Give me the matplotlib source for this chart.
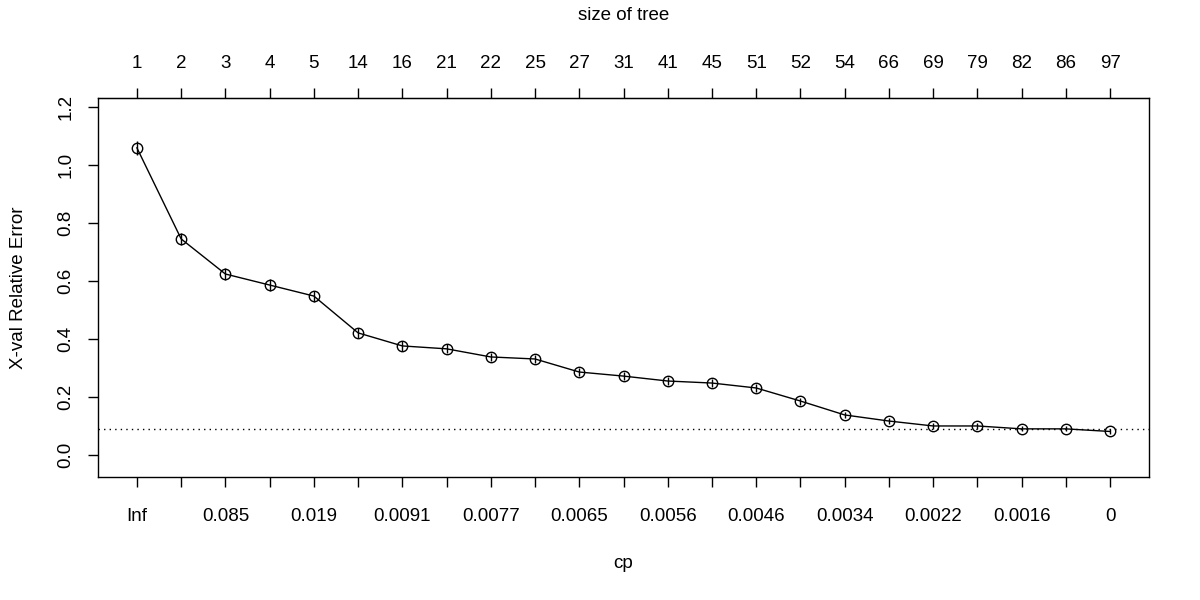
import numpy as np
import matplotlib.pyplot as plt

plt.rcParams['font.family'] = ['Liberation Sans', 'DejaVu Sans']

tree_size = [1, 2, 3, 4, 5, 14, 16, 21, 22, 25, 27, 31, 41, 45, 51, 52, 54, 66, 69, 79, 82, 86, 97]
xerror = [1.059, 0.745, 0.624, 0.586, 0.548, 0.421, 0.376, 0.366, 0.338, 0.331, 0.286, 0.272,
          0.255, 0.248, 0.231, 0.186, 0.138, 0.117, 0.100, 0.100, 0.090, 0.090, 0.081]
xstd = [0.024, 0.022, 0.020, 0.020, 0.019, 0.017, 0.016, 0.016, 0.015, 0.015, 0.014, 0.014,
        0.013, 0.013, 0.013, 0.012, 0.011, 0.010, 0.009, 0.009, 0.009, 0.009, 0.008]
cp_labels = ['Inf', '', '0.085', '', '0.019', '', '0.0091', '', '0.0077', '', '0.0065', '',
             '0.0056', '', '0.0046', '', '0.0034', '', '0.0022', '', '0.0016', '', '0']
threshold = 0.09

x = np.arange(1, len(tree_size) + 1)
err = np.array(xerror)
sd = np.array(xstd)
fs = 13.5

fig = plt.figure(figsize=(12, 6), dpi=100)
ax = fig.add_axes([98/1200, 1-477/600, (1149-98)/1200, (477-98)/600])

ax.vlines(x, err - sd, err + sd, color='black', lw=1)
ax.plot(x, err, '-o', color='black', lw=1, ms=7.5, mfc='none', mew=1)
ax.axhline(threshold, color='black', lw=1, ls=(0, (1, 3)))

ax.set_xlim(0.12, 23.88)
ax.set_ylim(-0.076, 1.231)

ax.set_yticks(np.arange(0, 1.21, 0.2))
ax.set_yticklabels(['%.1f' % v for v in np.arange(0, 1.21, 0.2)], rotation=90, va='center')
ax.set_xticks(x)
ax.set_xticklabels(cp_labels)
ax.tick_params(direction='out', length=7, width=1, labelsize=fs, pad=15)
ax.tick_params(axis='y', pad=10)

top = ax.secondary_xaxis('top')
top.set_xticks(x)
top.set_xticklabels([str(s) for s in tree_size])
top.tick_params(direction='out', length=7, width=1, labelsize=fs, pad=12)
top.set_xlabel('size of tree', fontsize=fs, labelpad=25)

ax.set_xlabel('cp', fontsize=fs, labelpad=22)
ax.set_ylabel('X-val Relative Error', fontsize=fs, labelpad=22)
for s in ax.spines.values():
    s.set_linewidth(1)

fig.savefig('out.png', dpi=100)
